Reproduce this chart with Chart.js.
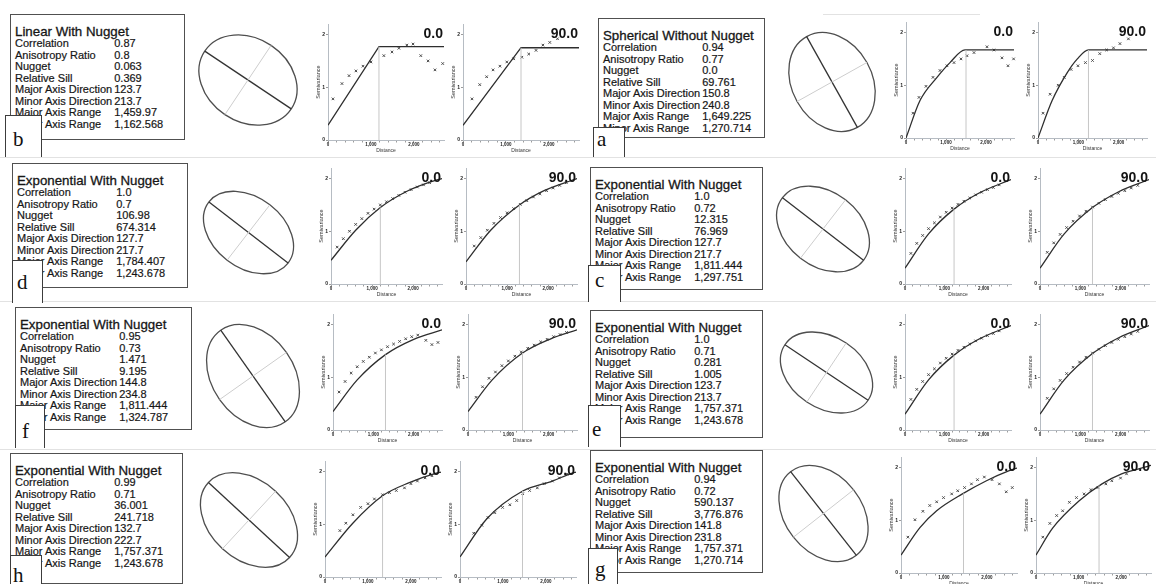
<!DOCTYPE html>
<html>
<head>
<meta charset="utf-8">
<title>Directional semivariogram models</title>
<script src="https://cdn.jsdelivr.net/npm/chart.js@4.4.1/dist/chart.umd.min.js"></script>
<style>
  html, body { margin:0; padding:0; background:#fff; }
  #sheet { position:relative; width:1156px; height:584px; overflow:hidden; background:#fff;
           font-family:"Liberation Sans", Arial, sans-serif; color:#161616; }
  .rule { position:absolute; height:1px; background:#e2e2e2; }
  .param-box { position:absolute; box-sizing:border-box; border:1.5px solid #505050; background:#fff; }
  .param-title { position:absolute; left:4px; top:9px; font-size:13.3px; white-space:nowrap; -webkit-text-stroke:0.3px #161616; }
  .param-grid { position:absolute; left:4px; top:23px; display:grid;
                grid-template-columns:max-content max-content; column-gap:2px;
                font-size:11px; line-height:11.5px; white-space:nowrap; -webkit-text-stroke:0.2px #161616; }
  .tag { position:absolute; box-sizing:border-box; background:#fff; border:1px solid #3c3c3c; border-bottom:none; }
  .tag span { position:absolute; font-family:"Liberation Serif","DejaVu Serif",serif; font-size:21px; line-height:1; color:#111; }
  canvas { position:absolute; }
</style>
</head>
<body>
<div id="sheet"></div>
<script>
// ---- fitted model parameters, one entry per panel (reading order b, a, d, c, f, e, h, g) ----
const panelLetters   = ['b', 'a', 'd', 'c', 'f', 'e', 'h', 'g'];
const modelTitles    = ['Linear With Nugget', 'Spherical Without Nugget', 'Exponential With Nugget',
                        'Exponential With Nugget', 'Exponential With Nugget', 'Exponential With Nugget',
                        'Exponential With Nugget', 'Exponential With Nugget'];
const paramNames     = ['Correlation', 'Anisotropy Ratio', 'Nugget', 'Relative Sill',
                        'Major Axis Direction', 'Minor Axis Direction', 'Major Axis Range', 'Minor Axis Range'];
const correlation    = ['0.87', '0.94', '1.0', '1.0', '0.95', '1.0', '0.99', '0.94'];
const anisotropyRatio = [0.8, 0.77, 0.7, 0.72, 0.73, 0.71, 0.71, 0.72];
const nuggetValue    = ['0.063', '0.0', '106.98', '12.315', '1.471', '0.281', '36.001', '590.137'];
const relativeSill   = ['0.369', '69.761', '674.314', '76.969', '9.195', '1.005', '241.718', '3,776.876'];
const majorDirection = [123.7, 150.8, 127.7, 127.7, 144.8, 123.7, 132.7, 141.8];
const minorDirection = [213.7, 240.8, 217.7, 217.7, 234.8, 213.7, 222.7, 231.8];
const majorRange     = ['1,459.97', '1,649.225', '1,784.407', '1,811.444', '1,811.444', '1,757.371', '1,757.371', '1,757.371'];
const minorRange     = ['1,162.568', '1,270.714', '1,243.678', '1,297.751', '1,324.787', '1,243.678', '1,243.678', '1,270.714'];

// ---- directional semivariograms: [distance, semivariance] ----
const directionLabels = ['0.0', '90.0'];
const distanceTicks = [0, 1000, 2000];
const distanceTickLabels = ['0', '1,000', '2,000'];
const semivarianceTicks = [0, 1, 2];

const empB0 = [[116,0.78],[325,1.07],[490,1.22],[650,1.31],[815,1.40],[1000,1.48],[1300,1.60],[1490,1.67],[1650,1.74],[1835,1.80],[1980,1.82],[2160,1.60],[2330,1.50],[2490,1.33],[2670,1.45]];
const modelB0 = [[0,0.28],[1186,1.77],[2700,1.77]];
const rangeB0 = [1186,1.77];
const empB90 = [[210,0.78],[390,1.05],[550,1.20],[700,1.33],[860,1.40],[1020,1.48],[1180,1.54],[1370,1.57],[1530,1.63],[1700,1.70],[1860,1.80],[2020,1.85],[2200,1.92]];
const modelB90 = [[0,0.28],[1350,1.75],[2700,1.75]];
const rangeB90 = [1350,1.75];

const empA0 = [[175,0.47],[325,0.77],[500,0.98],[675,1.15],[850,1.28],[1025,1.37],[1200,1.43],[1375,1.50],[1525,1.56],[1700,1.62],[2025,1.73],[2200,1.67],[2400,1.52],[2550,1.37],[2690,1.50]];
const modelA0 = [[0,0],[350,0.71],[775,1.15],[1100,1.43],[1475,1.67],[2700,1.67]];
const rangeA0 = [1500,1.67];
const empA90 = [[125,0.47],[300,0.83],[500,1.00],[650,1.15],[820,1.30],[990,1.37],[1175,1.43],[1350,1.47],[1530,1.60],[1700,1.67],[1870,1.71],[2030,1.79],[2240,1.88]];
const modelA90 = [[0,0],[350,0.71],[725,1.24],[975,1.50],[1250,1.67],[2700,1.67]];
const rangeA90 = [1250,1.67];

const empD0 = [[150,0.70],[300,0.86],[450,1.00],[600,1.13],[750,1.24],[900,1.34],[1050,1.42],[1200,1.50],[1350,1.56],[1500,1.62],[1650,1.68],[1800,1.74],[1950,1.79],[2100,1.84],[2250,1.88],[2400,1.92]];
const modelD0 = [[0,0.45],[600,1.02],[1200,1.45],[1800,1.74],[2400,1.93],[2700,2.00]];
const rangeD0 = [1200,1.45];
const empD90 = [[200,0.72],[360,0.88],[520,1.02],[680,1.15],[840,1.26],[1000,1.35],[1160,1.43],[1320,1.51],[1480,1.58],[1640,1.65],[1800,1.71],[1960,1.77],[2120,1.82],[2280,1.87],[2440,1.92]];
const modelD90 = [[0,0.42],[600,1.02],[1300,1.50],[1900,1.77],[2700,2.00]];
const rangeD90 = [1300,1.50];

const empC0 = [[150,0.58],[300,0.77],[450,0.92],[600,1.05],[750,1.16],[900,1.27],[1050,1.36],[1200,1.44],[1350,1.51],[1500,1.57],[1650,1.63],[1800,1.69],[1950,1.74],[2100,1.79],[2250,1.83],[2400,1.88]];
const modelC0 = [[0,0.30],[600,0.95],[1250,1.42],[1900,1.73],[2700,1.98]];
const rangeC0 = [1250,1.42];
const empC90 = [[180,0.60],[340,0.78],[500,0.94],[660,1.07],[820,1.19],[980,1.29],[1140,1.38],[1300,1.46],[1460,1.53],[1620,1.60],[1780,1.66],[1940,1.72],[2100,1.77],[2260,1.82],[2420,1.87]];
const modelC90 = [[0,0.30],[600,0.95],[1300,1.45],[1950,1.75],[2700,1.98]];
const rangeC90 = [1300,1.45];

const empF0 = [[150,0.72],[300,0.92],[450,1.08],[600,1.20],[750,1.30],[900,1.38],[1050,1.46],[1200,1.52],[1350,1.58],[1500,1.63],[1650,1.68],[1800,1.73],[1950,1.77],[2100,1.80],[2300,1.70],[2450,1.62],[2600,1.66]];
const modelF0 = [[0,0.35],[600,0.95],[1300,1.43],[2000,1.72],[2700,1.90]];
const rangeF0 = [1300,1.43];
const empF90 = [[200,0.62],[360,0.82],[520,0.98],[680,1.10],[840,1.22],[1000,1.31],[1160,1.40],[1320,1.48],[1480,1.55],[1640,1.61],[1800,1.67],[1960,1.72],[2120,1.77],[2280,1.81],[2440,1.85]];
const modelF90 = [[0,0.35],[600,0.95],[1350,1.46],[2050,1.73],[2700,1.90]];
const rangeF90 = [1350,1.46];

const empE0 = [[150,0.58],[300,0.77],[450,0.92],[600,1.05],[750,1.16],[900,1.27],[1050,1.36],[1200,1.44],[1350,1.51],[1500,1.57],[1650,1.63],[1800,1.69],[1950,1.74],[2100,1.79],[2250,1.83],[2400,1.88]];
const modelE0 = [[0,0.30],[600,0.95],[1250,1.42],[1900,1.73],[2700,1.98]];
const rangeE0 = [1250,1.42];
const empE90 = [[180,0.60],[340,0.78],[500,0.94],[660,1.07],[820,1.19],[980,1.29],[1140,1.38],[1300,1.46],[1460,1.53],[1620,1.60],[1780,1.66],[1940,1.72],[2100,1.77],[2260,1.82],[2420,1.87]];
const modelE90 = [[0,0.30],[600,0.95],[1300,1.45],[1950,1.75],[2700,1.98]];
const rangeE90 = [1300,1.45];

const empH0 = [[346,0.88],[485,1.02],[650,1.18],[830,1.32],[1000,1.39],[1150,1.48],[1340,1.56],[1500,1.60],[1660,1.64],[1850,1.69],[2000,1.77],[2150,1.82],[2330,1.88],[2490,1.92]];
const modelH0 = [[0,0.38],[647,1.02],[1340,1.54],[1963,1.79],[2590,1.97],[2700,1.99]];
const rangeH0 = [1340,1.54];
const empH90 = [[320,0.83],[510,0.98],[650,1.13],[810,1.22],[990,1.32],[1160,1.37],[1320,1.45],[1460,1.58],[1620,1.64],[1800,1.69],[1960,1.77],[2150,1.82],[2310,1.88],[2490,1.95]];
const modelH90 = [[0,0.38],[620,1.10],[1460,1.63],[2150,1.82],[2610,1.97],[2700,1.99]];
const rangeH90 = [1455,1.63];

const empG0 = [[160,0.68],[325,1.01],[510,1.17],[670,1.28],[830,1.35],[990,1.43],[1180,1.50],[1320,1.56],[1480,1.62],[1640,1.69],[1780,1.77],[1940,1.82],[2120,1.77],[2290,1.69],[2450,1.54],[2590,1.62]];
const modelG0 = [[0,0.34],[440,0.86],[830,1.18],[1430,1.50],[1990,1.75],[2520,1.94],[2700,1.99]];
const rangeG0 = [1455,1.51];
const empG90 = [[160,0.68],[325,0.94],[485,1.09],[625,1.18],[785,1.34],[950,1.43],[1130,1.50],[1290,1.58],[1455,1.62],[1640,1.69],[1780,1.75],[1985,1.80],[2125,1.88]];
const modelG90 = [[0,0.34],[390,0.85],[1015,1.37],[1550,1.69],[2010,1.88],[2470,1.99],[2700,2.04]];
const rangeG90 = [1480,1.66];

// per panel: [0.0 direction, 90.0 direction]
const variograms = [
  [[empB0, modelB0, rangeB0], [empB90, modelB90, rangeB90]],
  [[empA0, modelA0, rangeA0], [empA90, modelA90, rangeA90]],
  [[empD0, modelD0, rangeD0], [empD90, modelD90, rangeD90]],
  [[empC0, modelC0, rangeC0], [empC90, modelC90, rangeC90]],
  [[empF0, modelF0, rangeF0], [empF90, modelF90, rangeF90]],
  [[empE0, modelE0, rangeE0], [empE90, modelE90, rangeE90]],
  [[empH0, modelH0, rangeH0], [empH90, modelH90, rangeH90]],
  [[empG0, modelG0, rangeG0], [empG90, modelG90, rangeG90]]
];
const piecewiseLinear = [true, false, false, false, false, false, false, false];

// ---- page layout (pixels) ----
const textBoxes = [[10,14,175,126],[598,18,167,120],[12,163,176,125],[590,167,173,123],
                   [15,307,177,123],[590,310,173,128],[10,453,173,131],[590,450,173,123]];
// tag box x, y, w, h, letter x, letter baseline
const tagBoxes = [[5,115,37,42,13,147],[593,127,32,30,597,147],[12,260,31,43,17,290],[588,265,33,37,595,288],
                  [15,405,30,43,22,439],[588,405,33,42,592,437],[10,555,32,35,13,583],[588,548,30,40,595,577]];
// plot areas [left, right, bottom] for the 0.0 and 90.0 plots of each panel
const plotAreas = [
  [[328,445,140],[463,580,140]], [[906,1015,138],[1038,1148,138]],
  [[331,443,284],[466,578,284]], [[905,1012,284],[1040,1150,284]],
  [[333,443,430],[468,578,430]], [[905,1012,430],[1040,1150,430]],
  [[325,442,577],[460,577,577]], [[901,1018,573],[1036,1152,573]]
];
const ellipseCenters = [[248,80],[832,82],[248,232],[823,229],[253,376],[826,372],[249,520],[823,513]];
const ellipseSemiPx = [52, 52, 50, 51, 56, 50, 55, 53];
const rules = [[0,157,1156],[0,301,1156],[0,449,1156],[823,14,157]];

const PLOT_H = 117, AXIS_W = 13, AXIS_H = 14, PAD_T = 4, PAD_R = 4;

const sheet = document.getElementById('sheet');
function place(node, x, y, w, h) {
  node.style.left = x + 'px'; node.style.top = y + 'px';
  if (w != null) node.style.width = w + 'px';
  if (h != null) node.style.height = h + 'px';
  sheet.appendChild(node);
  return node;
}

rules.forEach(([x, y, w]) => {
  const r = document.createElement('div'); r.className = 'rule'; place(r, x, y, w, 1);
});

// parameter tables
panelLetters.forEach((letter, i) => {
  const [bx, by, bw, bh] = textBoxes[i];
  const box = document.createElement('div'); box.className = 'param-box';
  const title = document.createElement('div'); title.className = 'param-title'; title.textContent = modelTitles[i];
  const grid = document.createElement('div'); grid.className = 'param-grid';
  const values = [correlation[i], String(anisotropyRatio[i]), nuggetValue[i], relativeSill[i],
                  String(majorDirection[i]), String(minorDirection[i]), majorRange[i], minorRange[i]];
  paramNames.forEach((name, k) => {
    const a = document.createElement('div'); a.textContent = name;
    const b = document.createElement('div'); b.textContent = values[k];
    grid.appendChild(a); grid.appendChild(b);
  });
  box.appendChild(title); box.appendChild(grid);
  place(box, bx, by, bw, bh);

  const [tx, ty, tw, th, lx, lb] = tagBoxes[i];
  const tag = document.createElement('div'); tag.className = 'tag'; tag.style.zIndex = 5;
  const span = document.createElement('span'); span.textContent = letter;
  span.style.left = (lx - tx - 1) + 'px'; span.style.top = (lb - ty - 19) + 'px';
  tag.appendChild(span);
  place(tag, tx, ty, tw, th);
});

// direction label in the top right corner of each semivariogram
const dirLabelPlugin = {
  id: 'dirLabel',
  afterDraw(chart, args, opts) {
    const { ctx, chartArea } = chart;
    ctx.save();
    ctx.font = 'bold 14px "Liberation Sans", Arial, sans-serif';
    ctx.fillStyle = '#141414';
    ctx.textAlign = 'right'; ctx.textBaseline = 'middle';
    ctx.fillText(opts.text, chartArea.right - 1, chartArea.top + 10);
    ctx.restore();
  }
};

// anisotropy ellipse outline, scaled through the chart's own axes
const ellipsePlugin = {
  id: 'anisotropyEllipse',
  beforeDatasetsDraw(chart, args, opts) {
    const { ctx, scales: { x, y } } = chart;
    const cx = x.getPixelForValue(0), cy = y.getPixelForValue(0);
    const rx = x.getPixelForValue(1) - cx;
    const ry = cy - y.getPixelForValue(opts.ratio);
    ctx.save();
    ctx.beginPath();
    ctx.ellipse(cx, cy, rx, ry, (opts.azimuth - 90) * Math.PI / 180, 0, Math.PI * 2);
    ctx.strokeStyle = '#4e4e4e'; ctx.lineWidth = 1.3; ctx.stroke();
    ctx.restore();
  }
};

const distanceMarks = [];
for (let d = 0; d <= 2600; d += 200) distanceMarks.push(d);

function drawVariogram(area, series, label, straight) {
  const [L, R, B] = area;
  const [empirical, model, rangeMark] = series;
  const T = B - PLOT_H;
  const w = AXIS_W + (R - L) + PAD_R, h = PAD_T + PLOT_H + AXIS_H;
  const cv = document.createElement('canvas');
  cv.width = w; cv.height = h;
  place(cv, L - AXIS_W, T - PAD_T, w, h);
  new Chart(cv, {
    type: 'scatter',
    data: { datasets: [
      { type: 'line', data: [{ x: rangeMark[0], y: 0 }, { x: rangeMark[0], y: rangeMark[1] }],
        borderColor: '#c6c6c6', borderWidth: 1, pointRadius: 0 },
      { type: 'line', data: model.map(([x, y]) => ({ x, y })), borderColor: '#2e2e2e', borderWidth: 1.3,
        pointRadius: 0, tension: 0, cubicInterpolationMode: straight ? 'default' : 'monotone' },
      { data: empirical.map(([x, y]) => ({ x, y })), pointStyle: 'crossRot', pointRadius: 1.8,
        borderColor: '#4a4a4a', backgroundColor: '#4a4a4a', borderWidth: 1, clip: 6 }
    ] },
    options: {
      responsive: false, animation: false, devicePixelRatio: 1, events: [],
      layout: { padding: { top: PAD_T, right: PAD_R, left: 0, bottom: 0 } },
      plugins: { legend: { display: false }, tooltip: { enabled: false }, dirLabel: { text: label } },
      scales: {
        x: {
          type: 'linear', min: 0, max: 2700,
          afterFit(s) { s.height = AXIS_H; },
          afterBuildTicks(s) { s.ticks = distanceMarks.map(v => ({ value: v })); },
          ticks: { font: { size: 4.5, weight: 'bold' }, color: '#222', padding: 0, maxRotation: 0, autoSkip: false,
                   callback: v => { const k = distanceTicks.indexOf(v); return k < 0 ? '' : distanceTickLabels[k]; } },
          grid: { drawOnChartArea: false, tickLength: 2.5, color: '#9c9c9c' },
          border: { color: '#b6bcc3', width: 1 },
          title: { display: true, text: 'Distance', font: { size: 5 }, color: '#333', padding: 0 }
        },
        y: {
          min: 0, max: 2.2,
          afterFit(s) { s.width = AXIS_W; },
          afterBuildTicks(s) { s.ticks = semivarianceTicks.map(v => ({ value: v })); },
          ticks: { font: { size: 5, weight: 'bold' }, color: '#222', padding: 1, callback: v => String(v) },
          grid: { drawOnChartArea: false, tickLength: 2, color: '#9c9c9c' },
          border: { color: '#b6bcc3', width: 1 },
          title: { display: true, text: 'Semivariance', font: { size: 5.5 }, color: '#333', padding: 0 }
        }
      }
    },
    plugins: [dirLabelPlugin]
  });
}

function drawEllipse(center, semiPx, azimuth, ratio) {
  const size = Math.round(semiPx * 2.5);
  const cv = document.createElement('canvas');
  cv.width = size; cv.height = size;
  place(cv, Math.round(center[0] - size / 2), Math.round(center[1] - size / 2), size, size);
  const maj = azimuth * Math.PI / 180, mnr = (azimuth + 90) * Math.PI / 180;
  new Chart(cv, {
    type: 'scatter',
    data: { datasets: [
      { type: 'line', borderColor: '#cdcdcd', borderWidth: 1, pointRadius: 0,
        data: [{ x: -Math.sin(mnr) * ratio, y: -Math.cos(mnr) * ratio }, { x: Math.sin(mnr) * ratio, y: Math.cos(mnr) * ratio }] },
      { type: 'line', borderColor: '#333', borderWidth: 1.3, pointRadius: 0,
        data: [{ x: -Math.sin(maj), y: -Math.cos(maj) }, { x: Math.sin(maj), y: Math.cos(maj) }] }
    ] },
    options: {
      responsive: false, animation: false, devicePixelRatio: 1, events: [],
      layout: { padding: 0 },
      plugins: { legend: { display: false }, tooltip: { enabled: false }, anisotropyEllipse: { azimuth, ratio } },
      scales: { x: { display: false, min: -1.25, max: 1.25 }, y: { display: false, min: -1.25, max: 1.25 } }
    },
    plugins: [ellipsePlugin]
  });
}

panelLetters.forEach((_, i) => {
  drawEllipse(ellipseCenters[i], ellipseSemiPx[i], majorDirection[i], anisotropyRatio[i]);
  directionLabels.forEach((label, k) => drawVariogram(plotAreas[i][k], variograms[i][k], label, piecewiseLinear[i]));
});
</script>
</body>
</html>
